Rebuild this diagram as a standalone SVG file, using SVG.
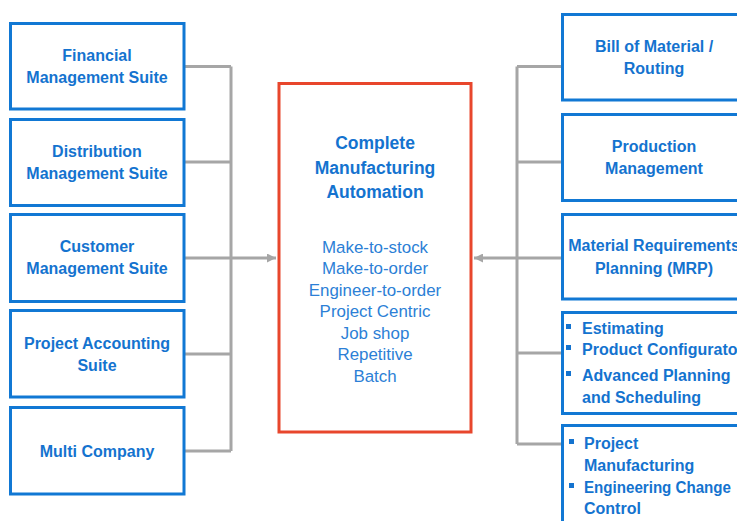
<svg xmlns="http://www.w3.org/2000/svg" width="737" height="521" viewBox="0 0 737 521">
<style>
.box{fill:#fff;stroke:#1178D4;stroke-width:3}
.main{fill:#fff;stroke:#E8462C;stroke-width:3}
.t{font-family:"Liberation Sans",Arial,sans-serif;font-weight:bold;font-size:16px;fill:#1473CF;text-anchor:middle}
.tl{font-family:"Liberation Sans",Arial,sans-serif;font-weight:bold;font-size:16px;fill:#1473CF}
.h{font-family:"Liberation Sans",Arial,sans-serif;font-weight:bold;font-size:17.5px;fill:#1473CF;text-anchor:middle}
.l{font-family:"Liberation Sans",Arial,sans-serif;font-size:16.9px;fill:#2C7FD6;text-anchor:middle}
.c{fill:none;stroke:#A6A6A6;stroke-width:3}
.b{fill:#1473CF}
</style>
<defs>
<marker id="ah" viewBox="0 0 10 10" refX="10" refY="5" markerWidth="3.2" markerHeight="3" orient="auto" markerUnits="strokeWidth">
<path d="M0,0 L10,5 L0,10 Z" fill="#A6A6A6"/>
</marker>
</defs>
<g id="connectors">
<path class="c" d="M184,66.5 H231 M184,162 H231 M184,354 H231 M184,451 H231 M231,66.5 V451"/>
<path class="c" d="M184,258 H276" marker-end="url(#ah)"/>
<path class="c" d="M562,66.5 H517 M562,162 H517 M562,353 H517 M562,444 H517 M517,66.5 V444"/>
<path class="c" d="M562,258 H474" marker-end="url(#ah)"/>
</g>
<g id="n-financial">
<rect class="box" x="10.5" y="23.5" width="173.5" height="85.5"/>
<text class="t" x="97" y="61">Financial</text>
<text class="t" x="97" y="83">Management Suite</text>
</g>
<g id="n-distribution">
<rect class="box" x="10.5" y="119.5" width="173.5" height="86"/>
<text class="t" x="97" y="157">Distribution</text>
<text class="t" x="97" y="179">Management Suite</text>
</g>
<g id="n-customer">
<rect class="box" x="10.5" y="214.5" width="173.5" height="87"/>
<text class="t" x="97" y="252">Customer</text>
<text class="t" x="97" y="274">Management Suite</text>
</g>
<g id="n-project-accounting">
<rect class="box" x="10.5" y="310.5" width="173.5" height="86.5"/>
<text class="t" x="97" y="348.5">Project Accounting</text>
<text class="t" x="97" y="370.5">Suite</text>
</g>
<g id="n-multi-company">
<rect class="box" x="10.5" y="407.5" width="173.5" height="86.5"/>
<text class="t" x="97" y="456.5">Multi Company</text>
</g>
<g id="n-center">
<rect class="main" x="279" y="83.5" width="192" height="348.5"/>
<text class="h" x="375" y="149">Complete</text>
<text class="h" x="375" y="173.5">Manufacturing</text>
<text class="h" x="375" y="198">Automation</text>
<text class="l" x="375" y="252.5">Make-to-stock</text>
<text class="l" x="375" y="274">Make-to-order</text>
<text class="l" x="375" y="295.5">Engineer-to-order</text>
<text class="l" x="375" y="317">Project Centric</text>
<text class="l" x="375" y="338.5">Job shop</text>
<text class="l" x="375" y="360">Repetitive</text>
<text class="l" x="375" y="381.5">Batch</text>
</g>
<g id="n-bom">
<rect class="box" x="562.5" y="14.5" width="184" height="85.5"/>
<text class="t" x="654" y="51.5">Bill of Material /</text>
<text class="t" x="654" y="73.5">Routing</text>
</g>
<g id="n-production">
<rect class="box" x="562.5" y="114.5" width="184" height="86"/>
<text class="t" x="654" y="151.5">Production</text>
<text class="t" x="654" y="173.5">Management</text>
</g>
<g id="n-mrp">
<rect class="box" x="562.5" y="214.5" width="184" height="84.5"/>
<text class="t" x="654" y="250.5">Material Requirements</text>
<text class="t" x="654" y="273.5">Planning (MRP)</text>
</g>
<g id="n-estimating">
<rect class="box" x="562.5" y="312.5" width="184" height="101"/>
<rect class="b" x="566" y="324" width="5" height="5"/>
<text class="tl" x="582" y="333.5">Estimating</text>
<rect class="b" x="566" y="345" width="5" height="5"/>
<text class="tl" x="582" y="354.5">Product Configurator</text>
<rect class="b" x="566" y="371" width="5" height="5"/>
<text class="tl" x="582" y="380.5">Advanced Planning</text>
<text class="tl" x="582" y="402.5">and Scheduling</text>
</g>
<g id="n-project-mfg">
<rect class="box" x="562.5" y="425.5" width="184" height="110"/>
<rect class="b" x="569" y="439" width="5" height="5"/>
<text class="tl" x="584" y="448.5">Project</text>
<text class="tl" x="584" y="470.5">Manufacturing</text>
<rect class="b" x="569" y="483" width="5" height="5"/>
<text class="tl" x="584" y="492.5" textLength="147" lengthAdjust="spacingAndGlyphs">Engineering Change</text>
<text class="tl" x="584" y="514">Control</text>
</g>
</svg>
